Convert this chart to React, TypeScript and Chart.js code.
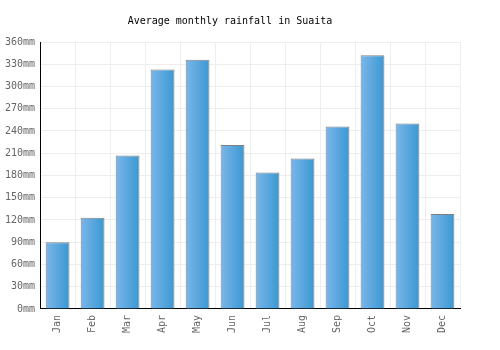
import React, { useEffect, useRef } from "react";
import { Chart, registerables } from "chart.js";

Chart.register(...registerables);

const months = ["Jan", "Feb", "Mar", "Apr", "May", "Jun", "Jul", "Aug", "Sep", "Oct", "Nov", "Dec"];
const rainfall = [90, 123, 207, 323, 336, 221, 184, 203, 246, 342, 250, 128];
const yMax = 360;
const yStep = 30;

const FONT = "'DejaVu Sans Mono', monospace";

export default function App() {
  const ref = useRef<HTMLCanvasElement>(null);
  useEffect(() => {
    if (!ref.current) return;
    const chart = new Chart(ref.current, {
      type: "bar",
      data: {
        labels: months,
        datasets: [
          {
            data: rainfall,
            borderColor: "#808080",
            borderWidth: 1,
            barPercentage: 0.68,
            categoryPercentage: 1,
            backgroundColor: (ctx: any) => {
              const c = ctx.chart;
              const xs = c.scales?.x;
              if (!xs || ctx.dataIndex === undefined) return "#4a9fdb";
              const cx = xs.getPixelForValue(ctx.dataIndex);
              const hw = (xs.width / months.length) * 0.68 / 2;
              if (!isFinite(cx) || !isFinite(hw) || hw <= 0) return "#4a9fdb";
              const g = c.ctx.createLinearGradient(cx - hw, 0, cx + hw, 0);
              g.addColorStop(0, "#7bb6e9");
              g.addColorStop(1, "#3a98d2");
              return g;
            },
          },
        ],
      },
      options: {
        animation: false,
        responsive: true,
        maintainAspectRatio: false,
        layout: { padding: { right: 40, left: 0, top: 0, bottom: 11 } },
        plugins: {
          legend: { display: false },
          tooltip: { enabled: false },
          title: {
            display: true,
            text: "Average monthly rainfall in Suaita",
            color: "#000",
            font: { family: FONT, size: 10, weight: "normal" },
            padding: { top: 15, bottom: 15 },
          },
        },
        scales: {
          x: {
            offset: true,
            grid: { color: "#eeeeee", offset: true, drawTicks: false },
            border: { color: "#000", width: 1 },
            ticks: {
              color: "#666",
              font: { family: FONT, size: 10 },
              maxRotation: 90,
              minRotation: 90,
              padding: 6,
            },
          },
          y: {
            min: 0,
            max: yMax,
            grid: { color: "#eeeeee", drawTicks: false },
            border: { color: "#000", width: 1 },
            ticks: {
              stepSize: yStep,
              color: "#666",
              font: { family: FONT, size: 10 },
              padding: 5,
              callback: (v: any) => v + "mm",
            },
          },
        },
      },
    });
    return () => chart.destroy();
  }, []);
  return (
    <div style={{ position: "absolute", left: 0, top: 0, width: 500, height: 350 }}>
      <canvas ref={ref} />
    </div>
  );
}
